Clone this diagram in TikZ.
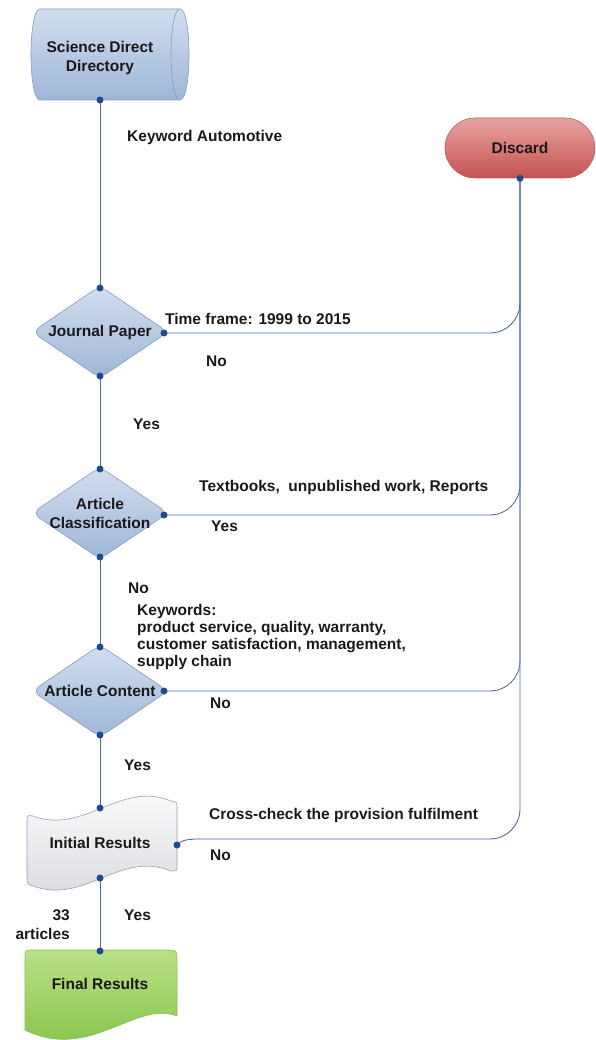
\documentclass[tikz,border=0pt]{standalone}
\usepackage{fontspec}
\setmainfont{Liberation Sans}
\definecolor{linec}{RGB}{80,108,158}
\definecolor{dotc}{RGB}{30,75,140}
\definecolor{bluetop}{RGB}{210,223,239}
\definecolor{bluebot}{RGB}{158,182,215}
\definecolor{blueedge}{RGB}{130,155,192}
\definecolor{redtop}{RGB}{234,162,160}
\definecolor{redbot}{RGB}{194,84,82}
\definecolor{rededge}{RGB}{182,96,96}
\definecolor{greentop}{RGB}{186,224,134}
\definecolor{greenbot}{RGB}{126,192,64}
\definecolor{greenedge}{RGB}{138,188,92}
\definecolor{graytop}{RGB}{253,253,253}
\definecolor{graybot}{RGB}{216,218,222}
\definecolor{grayedge}{RGB}{150,160,176}
\definecolor{txt}{RGB}{25,25,25}
\begin{document}
\begin{tikzpicture}[x=1pt,y=-1pt,
  lbl/.style={font=\fontsize{15.5}{19}\selectfont\bfseries, text=txt, align=center, inner sep=0pt},
  note/.style={lbl, anchor=west, align=left, text height=11pt, text depth=3pt},
  conn/.style={draw=linec, line width=0.9pt},
  bluefill/.style={draw=blueedge, line width=0.6pt, top color=bluetop, bottom color=bluebot},
  redfill/.style={draw=rededge, line width=0.6pt, top color=redtop, bottom color=redbot},
  greenfill/.style={draw=greenedge, line width=0.6pt, top color=greentop, bottom color=greenbot},
  grayfill/.style={draw=grayedge, line width=0.6pt, top color=graytop, bottom color=graybot},
  dot/.style={fill=dotc}
]
\useasboundingbox (0,0) rectangle (596,1040);

% ---- Science Direct Directory (cylinder)
\path[bluefill] (40,9) -- (180,9) .. controls (192,9) and (192,100) .. (180,100)
  -- (40,100) .. controls (28,100) and (28,9) .. (40,9) -- cycle;
\draw[blueedge, line width=0.6pt] (180,9) .. controls (168,9) and (168,100) .. (180,100);
\node[lbl] (sdd) at (100,58) {Science Direct\\Directory};
\coordinate (sddB) at (100,100);

% ---- Discard
\node[redfill, rounded corners=30pt, minimum width=150pt, minimum height=60pt, lbl] (disc) at (520,148) {Discard};
\coordinate (discB) at (disc.south);

% ---- Journal Paper
\path[bluefill, rounded corners=9pt] (100,286) -- (168,332) -- (100,378) -- (32,332) -- cycle;
\node[lbl] (jp) at (100,332) {Journal Paper};
\coordinate (jpT) at (100,288);
\coordinate (jpB) at (100,376);
\coordinate (jpR) at (164,333);

% ---- Article Classification
\path[bluefill, rounded corners=9pt] (100,467) -- (168,513) -- (100,559) -- (32,513) -- cycle;
\node[lbl] (ac) at (100,513) {Article\\Classification};
\coordinate (acT) at (100,469);
\coordinate (acB) at (100,557);
\coordinate (acR) at (164,515);

% ---- Article Content
\path[bluefill, rounded corners=9pt] (100,645) -- (168,691) -- (100,737) -- (32,691) -- cycle;
\node[lbl] (acn) at (100,691) {Article Content};
\coordinate (acnT) at (100,647);
\coordinate (acnB) at (100,735);
\coordinate (acnR) at (164,691);

% ---- Initial Results
\path[grayfill] (33,816) .. controls (85,835) and (120,780) .. (171,801)
  .. controls (177,802) .. (177,808) -- (177,866) .. controls (177,871) .. (171,871)
  .. controls (120,850) and (85,905) .. (33,886)
  .. controls (27,884) .. (27,878) -- (27,822) .. controls (27,815) .. (33,816) -- cycle;
\node[lbl] (ir) at (100,843) {Initial Results};
\coordinate (irT) at (100,808);
\coordinate (irB) at (100,878);
\coordinate (irR) at (177,845);

% ---- Final Results
\path[greenfill] (25,1030) -- (25,958) .. controls (25,950) .. (33,950) -- (165,950)
  .. controls (177,950) .. (177,962) -- (177,1016)
  .. controls (135,1000) and (90,1062) .. (25,1030) -- cycle;
\node[lbl] (fr) at (100,984) {Final Results};
\coordinate (frT) at (100,951);

% ---- connectors
\draw[conn] (sddB) -- (jpT);
\draw[conn] (jpB) -- (acT);
\draw[conn] (acB) -- (acnT);
\draw[conn] (acnB) -- (irT);
\draw[conn] (irB) -- (frT);
\draw[conn, rounded corners=30pt] (jpR) -| (discB);
\draw[conn, rounded corners=30pt] (acR) -| (discB);
\draw[conn, rounded corners=30pt] (acnR) -| (discB);
\draw[conn] (irR) .. controls (183,840) .. (195,839) [rounded corners=30pt] -| (discB);

\foreach \c in {sddB,discB,jpT,jpB,jpR,acT,acB,acR,acnT,acnB,acnR,irT,irB,irR,frT}
  \fill[dot] (\c) circle (3.5pt);

% ---- labels
\node[note] (t1) at (127,138) {Keyword Automotive};
\node[note] (t2) at (165,320) {Time frame: 1999 to 2015};
\node[note] (t3) at (206,362) {No};
\node[note] (t4) at (133,425) {Yes};
\node[note] (t5) at (199,487) {Textbooks,\ \ unpublished work, Reports};
\node[note] (t6) at (211,527) {Yes};
\node[note] (t7) at (128,589) {No};
\node[lbl, anchor=west, align=left, font=\fontsize{15.5}{17}\selectfont\bfseries] (t8) at (137,637)
  {Keywords:\\product service, quality, warranty,\\customer satisfaction, management,\\supply chain};
\node[note] (t9) at (210,704) {No};
\node[note] (t10) at (124,766) {Yes};
\node[note] (t11) at (209,815) {Cross-check the provision fulfilment};
\node[note] (t12) at (210,856) {No};
\node[lbl, anchor=east, align=right] (t13) at (70,925) {33\\articles};
\node[note] (t14) at (124,916) {Yes};
\end{tikzpicture}
\end{document}
